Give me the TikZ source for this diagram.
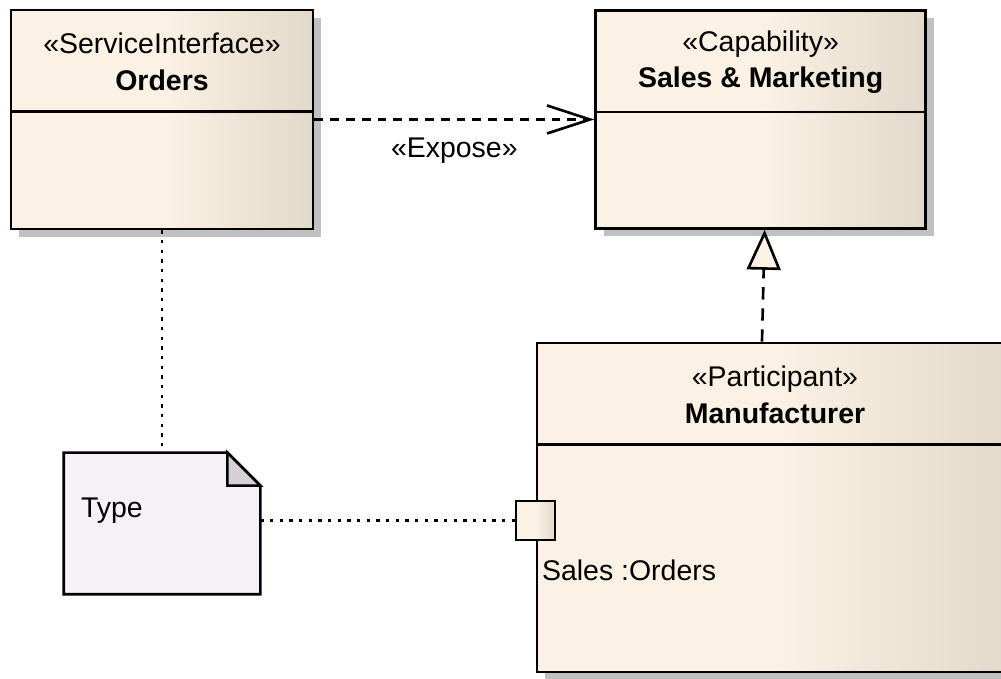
\documentclass[tikz,border=0pt]{standalone}
\usepackage{fontspec}
\setmainfont{Liberation Sans}
\usepackage{xcolor}
\usepackage{tikz}
\usetikzlibrary{
  arrows.meta,
  positioning,
  calc,
  shadows
}
\definecolor{umlcream}{RGB}{251,241,228}
\definecolor{umltan}{RGB}{227,217,202}
\definecolor{umlshadow}{RGB}{192,192,192}
\definecolor{notefill}{RGB}{246,241,246}
\definecolor{notefold}{RGB}{214,209,214}

\begin{document}
\begin{tikzpicture}[
    font=\fontsize{16.2}{21}\selectfont,
    line width=1.5pt,
    classbox/.style={
        draw,
        rectangle,
        inner sep=0pt,
        left color=umlcream,
        right color=umltan,
        middle color=umlcream,
        drop shadow={shadow xshift=0.16cm, shadow yshift=-0.16cm,
                     fill=umlshadow, opacity=1}
    },
    title/.style={align=center, inner sep=0pt},
    notebox/.style={rectangle, inner sep=0pt,
        minimum width=3.88cm, minimum height=2.78cm},
    portbox/.style={draw, rectangle, inner sep=0pt, minimum size=0.78cm,
        left color=umlcream, right color=umltan, middle color=umlcream},
    expose/.style={dash pattern=on 5pt off 4pt,
        -{Straight Barb[length=0.86cm, width=0.56cm]}},
    realize/.style={dash pattern=on 7pt off 5pt,
        -{Triangle[length=0.8cm, width=0.68cm, fill=umlcream]}},
    dotline/.style={dash pattern=on 2pt off 3.5pt}
]
\useasboundingbox (0,0) rectangle (20.02,-13.58);

% ----------------------------------------------------------
% NODES
% ----------------------------------------------------------

\node[classbox, minimum width=6.04cm, minimum height=4.38cm] (orders) at (3.24,-2.39) {};
\node[classbox, minimum width=6.6cm, minimum height=4.36cm, right=5.6cm of orders] (cap) {};
\node[classbox, minimum width=9.52cm, minimum height=6.58cm] (part) at (15.5,-10.15) {};

\draw ([yshift=-2.06cm]orders.north west) -- ([yshift=-2.06cm]orders.north east);
\draw ([yshift=-2.06cm]cap.north west) -- ([yshift=-2.06cm]cap.north east);
\draw ([yshift=-2.06cm]part.north west) -- ([yshift=-2.06cm]part.north east);

\node[title] at ([yshift=-1.06cm]orders.north) {«ServiceInterface»\\\textbf{Orders}};
\node[title] at ([yshift=-1.06cm]cap.north) {«Capability»\\\textbf{Sales \& Marketing}};
\node[title] at ([yshift=-1.06cm]part.north) {«Participant»\\\textbf{Manufacturer}};

\node[notebox] (type) at (3.24,-10.47) {};
\filldraw[fill=notefill] (type.north west) -- ([xshift=-0.66cm]type.north east)
    -- ([yshift=-0.66cm]type.north east) -- (type.south east)
    -- (type.south west) -- cycle;
\filldraw[fill=notefold] ([xshift=-0.66cm]type.north east)
    -- ([xshift=-0.66cm, yshift=-0.66cm]type.north east)
    -- ([yshift=-0.66cm]type.north east) -- cycle;
\node[anchor=west, inner sep=0pt] (typetext) at ([xshift=0.32cm, yshift=-1.16cm]type.north west) {Type};

\node[portbox] (port) at (10.71,-10.41) {};
\node[anchor=west, inner sep=1pt] (portname) at ([xshift=0.07cm, yshift=-0.99cm]port.center) {Sales :Orders};

% ----------------------------------------------------------
% ARROWS
% ----------------------------------------------------------

\draw[expose] (orders) -- node[below=0.22cm] (exposelbl) {«Expose»} (cap);
\draw[realize] ([xshift=-0.26cm]part.north) -- ([xshift=0.08cm]cap.south);
\draw[dotline] (orders.south) -- (type.north);
\draw[dotline] (type.east |- port) -- (port.west);

\end{tikzpicture}
\end{document}
